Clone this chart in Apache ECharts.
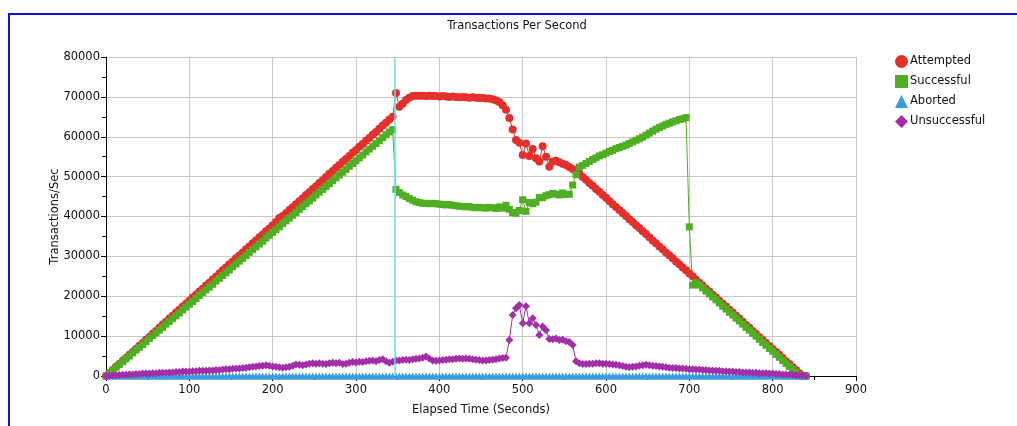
<!DOCTYPE html>
<html>
<head>
<meta charset="utf-8">
<script src="https://cdn.jsdelivr.net/npm/echarts@6/dist/echarts.min.js"></script>
<style>
  html, body { margin: 0; padding: 0; background: #ffffff; }
  #chart { width: 1017px; height: 426px; }
</style>
</head>
<body>
<div id="chart"></div>
<script>
// Sample times (seconds since the run started)
const elapsed = [
  0,4,8,12,16,20,24,28,32,36,40,44,48,52,56,60,64,68,72,76,80,84,88,92,96,
  100,104,108,112,116,120,124,128,132,136,140,144,148,152,156,160,164,168,172,176,180,184,188,192,196,
  200,204,208,212,216,220,224,228,232,236,240,244,248,252,256,260,264,268,272,276,280,284,288,292,296,
  300,304,308,312,316,320,324,328,332,336,340,344,348,352,356,360,364,368,372,376,380,384,388,392,396,
  400,404,408,412,416,420,424,428,432,436,440,444,448,452,456,460,464,468,472,476,480,484,488,492,496,
  500,504,508,512,516,520,524,528,532,536,540,544,548,552,556,560,564,568,572,576,580,584,588,592,596,
  600,604,608,612,616,620,624,628,632,636,640,644,648,652,656,660,664,668,672,676,680,684,688,692,696,
  700,704,708,712,716,720,724,728,732,736,740,744,748,752,756,760,764,768,772,776,780,784,788,792,796,
  800,804,808,812,816,820,824,828,832,836,840
];

const attempted = [
  0,760,1500,2300,3000,3800,4500,5300,6000,6800,7600,8300,9100,9800,10600,11300,12100,12900,13600,14400,15100,15900,16600,17400,18100,
  18900,19700,20400,21200,21900,22700,23400,24200,24900,25700,26500,27200,28000,28700,29500,30200,31000,31800,32500,33300,34000,34800,35500,36300,37000,
  37800,38600,39600,40100,40800,41600,42300,43100,43800,44600,45400,46100,46900,47600,48400,49100,49900,50700,51400,52200,52900,53700,54400,55200,56000,
  56700,57500,58200,59000,59700,60500,61200,62000,62800,63500,64300,65000,71000,67500,68300,69200,69800,70200,70300,70300,70300,70200,70300,70200,70200,
  70100,70200,70100,70000,70100,70000,69900,70000,69900,69800,69900,69800,69700,69700,69600,69600,69400,69100,68700,67900,66800,64700,61800,59200,58500,
  55400,58300,55200,56900,54600,53800,57600,55000,52500,53800,54000,53600,53200,52900,52400,51900,51300,50700,49900,49200,48400,47700,46900,46200,45400,
  44700,43900,43100,42400,41600,40900,40100,39300,38600,37800,37100,36300,35600,34800,34000,33300,32500,31800,31000,30300,29500,28700,28000,27200,26500,
  25700,25000,24200,23400,22700,21900,21200,20400,19700,18900,18100,17400,16600,15900,15100,14400,13600,12800,12100,11300,10600,9800,9000,8300,7500,
  6800,6000,5300,4500,3700,3000,2200,1500,700,100,0
];

const successful = [
  0,700,1400,2200,2900,3600,4300,5000,5800,6500,7200,7900,8600,9400,10100,10800,11500,12200,13000,13700,14400,15100,15800,16600,17300,
  18000,18700,19400,20200,20900,21600,22300,23000,23800,24500,25200,25900,26600,27400,28100,28800,29500,30200,31000,31700,32400,33100,33800,34600,35300,
  36000,36700,37400,38200,38900,39600,40300,41000,41800,42500,43200,43900,44600,45400,46100,46800,47500,48200,49000,49700,50400,51100,51800,52600,53300,
  54000,54700,55400,56200,56900,57600,58300,59000,59800,60500,61200,61800,46800,46000,45400,45000,44500,44100,43700,43500,43300,43300,43200,43300,43200,
  43100,43000,42900,43000,42800,42700,42600,42500,42400,42500,42300,42200,42300,42200,42100,42300,42200,42000,42400,42100,42800,41800,41000,40800,41500,
  44200,41300,43500,43200,43600,44800,44700,45200,45500,45800,45600,45400,45900,45500,45600,47900,50500,52400,52800,53300,53800,54300,54700,55200,55500,
  55900,56300,56600,57000,57300,57600,57900,58300,58700,59100,59500,59900,60400,60900,61400,61900,62300,62700,63100,63400,63700,64000,64300,64500,64800,
  37400,22800,23400,22800,22100,21300,20600,19800,19100,18300,17500,16800,16000,15300,14500,13800,13000,12200,11500,10700,10000,9200,8400,7700,6900,
  6200,5400,4700,3900,3100,2400,1600,900,200,0,0
];

const aborted = [
  0,0,0,0,0,0,0,0,0,0,0,0,0,0,0,0,0,0,0,0,0,0,0,0,0,
  0,0,0,0,0,0,0,0,0,0,0,0,0,0,0,0,0,0,0,0,0,0,0,0,0,
  0,0,0,0,0,0,0,0,0,0,0,0,0,0,0,0,0,0,0,0,0,0,0,0,0,
  0,0,0,0,0,0,0,0,0,0,0,0,0,0,0,0,0,0,0,0,0,0,0,0,0,
  0,0,0,0,0,0,0,0,0,0,0,0,0,0,0,0,0,0,0,0,0,0,0,0,0,
  0,0,0,0,0,0,0,0,0,0,0,0,0,0,0,0,0,0,0,0,0,0,0,0,0,
  0,0,0,0,0,0,0,0,0,0,0,0,0,0,0,0,0,0,0,0,0,0,0,0,0,
  0,0,0,0,0,0,0,0,0,0,0,0,0,0,0,0,0,0,0,0,0,0,0,0,0,
  0,0,0,0,0,0,0,0,0,0,0
];

const unsuccessful = [
  0,100,150,200,250,300,300,400,400,500,500,600,600,600,700,700,800,800,800,900,900,1000,1000,1100,1100,
  1100,1200,1200,1300,1300,1300,1400,1400,1500,1500,1600,1700,1700,1800,1900,1900,2000,2100,2200,2300,2400,2500,2600,2700,2600,
  2400,2300,2200,2100,2200,2300,2600,2900,2800,2700,2900,3100,3200,3100,3200,3100,3000,3200,3300,3200,3300,3000,3100,3300,3500,
  3400,3600,3500,3700,3800,3900,3700,4000,4200,3700,3300,3600,3900,3900,4000,4100,4000,4200,4300,4400,4600,4900,4400,3900,3800,
  3900,4000,4100,4200,4200,4300,4400,4300,4400,4300,4200,4100,4000,3900,3900,4000,4100,4200,4400,4500,4600,9000,15300,17000,17800,
  13200,17500,13200,14500,12800,10300,12400,11500,9300,9200,9400,9000,9100,8700,8500,7800,3700,3200,3000,3000,3100,3100,3200,3200,3100,
  3100,3000,2900,2800,2700,2500,2300,2200,2300,2400,2600,2700,2800,2700,2600,2500,2400,2300,2200,2100,2000,2000,1900,1900,1800,
  1700,1700,1600,1600,1500,1500,1400,1400,1300,1300,1200,1200,1100,1100,1000,1000,900,900,900,800,800,700,700,700,600,
  600,500,500,400,400,300,300,200,200,100,0
];

// Time of the highlighted event marker (seconds)
const eventTime = 347;

const xTicks = { min: 0, max: 900, step: 100 };
const yTicks = { min: 0, max: 80000, step: 10000 };

const pairs = (vals) => elapsed.map((t, i) => [t, vals[i]]);

const FONT = 'DejaVu Sans';
const chart = echarts.init(document.getElementById('chart'), null, { renderer: 'canvas' });

const lineSeries = (name, vals, color, symbol, size) => ({
  name: name,
  type: 'line',
  data: pairs(vals),
  symbol: symbol,
  symbolSize: size,
  showAllSymbol: true,
  lineStyle: { color: color, width: 1 },
  itemStyle: { color: color, borderWidth: 0 },
  emphasis: { disabled: true }
});

chart.setOption({
  animation: false,
  backgroundColor: '#ffffff',
  textStyle: { fontFamily: FONT },
  graphic: [
    {
      type: 'rect',
      shape: { x: 9, y: 14, width: 1030, height: 430 },
      style: { fill: 'none', stroke: '#0a12e6', lineWidth: 2 },
      silent: true
    },
    {
      type: 'text',
      x: 517, y: 26,
      style: {
        text: 'Transactions Per Second',
        font: '11.5px ' + FONT,
        fill: '#111111',
        textAlign: 'center',
        textVerticalAlign: 'middle'
      }
    }
  ],
  legend: {
    orient: 'vertical',
    left: 890,
    top: 50,
    itemGap: 7,
    itemWidth: 13,
    itemHeight: 13,
    textStyle: { fontFamily: FONT, fontSize: 11.5, color: '#111111', padding: [0, 0, 0, -3] },
    data: [
      { name: 'Attempted', icon: 'circle' },
      { name: 'Successful', icon: 'rect' },
      { name: 'Aborted', icon: 'triangle' },
      { name: 'Unsuccessful', icon: 'diamond' }
    ]
  },
  grid: { left: 106, right: 161, top: 57, bottom: 50, containLabel: false },
  xAxis: {
    type: 'value',
    min: xTicks.min, max: xTicks.max, interval: xTicks.step,
    name: 'Elapsed Time (Seconds)',
    nameLocation: 'middle',
    nameGap: 28,
    nameMoveOverlap: false,
    nameTextStyle: { fontFamily: FONT, fontSize: 11.5, color: '#111111' },
    axisLine: { lineStyle: { color: '#000000', width: 1 } },
    axisTick: { show: true, length: 5, lineStyle: { color: '#000000' } },
    minorTick: { show: true, splitNumber: 2, length: 4, lineStyle: { color: '#000000' } },
    axisLabel: { fontFamily: FONT, fontSize: 11.5, color: '#111111', margin: 8, formatter: (v) => String(v) },
    splitLine: { show: true, lineStyle: { color: '#c8c8c8', width: 1 } }
  },
  yAxis: {
    type: 'value',
    min: yTicks.min, max: yTicks.max, interval: yTicks.step,
    name: 'Transactions/Sec',
    nameLocation: 'middle',
    nameGap: 45,
    nameMoveOverlap: false,
    nameTextStyle: { fontFamily: FONT, fontSize: 11.5, color: '#111111' },
    axisLine: { show: true, lineStyle: { color: '#000000', width: 1 } },
    axisTick: { show: true, length: 5, lineStyle: { color: '#000000' } },
    minorTick: { show: true, splitNumber: 2, length: 4, lineStyle: { color: '#000000' } },
    axisLabel: { fontFamily: FONT, fontSize: 11.5, color: '#111111', margin: 6, formatter: (v) => String(v) },
    splitLine: { show: true, lineStyle: { color: '#c8c8c8', width: 1 } }
  },
  series: [
    lineSeries('Attempted', attempted, '#e4302c', 'circle', 8),
    lineSeries('Successful', successful, '#4fae22', 'rect', 7),
    Object.assign(lineSeries('Aborted', aborted, '#3a9de0', 'triangle', 7), {
      markLine: {
        silent: true,
        symbol: 'none',
        label: { show: false },
        lineStyle: { color: '#63e3ea', width: 1.5, type: 'solid' },
        data: [{ xAxis: eventTime }]
      }
    }),
    lineSeries('Unsuccessful', unsuccessful, '#a22ea8', 'diamond', 8)
  ]
});
</script>
</body>
</html>
